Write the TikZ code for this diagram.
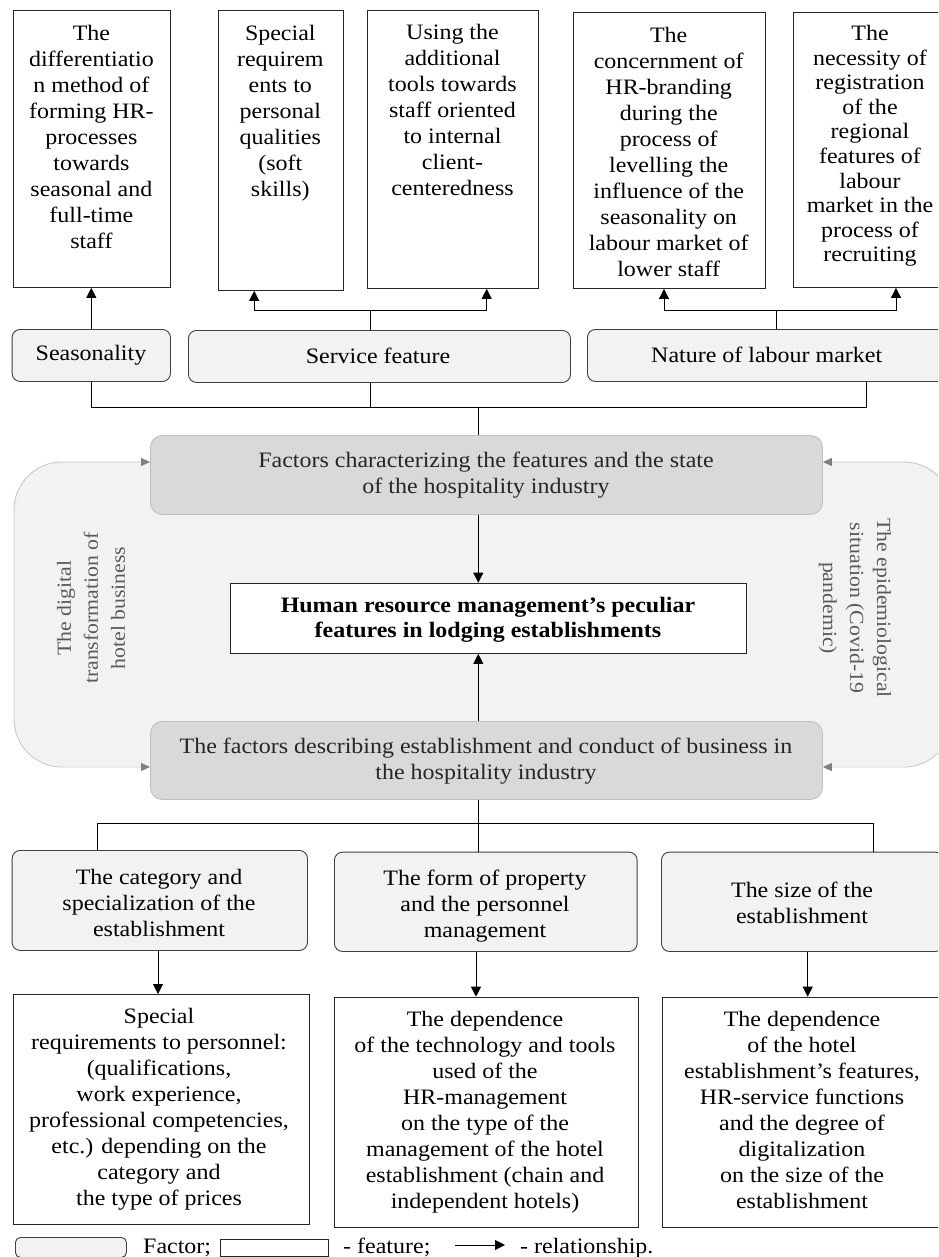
\documentclass[tikz,border=0pt]{standalone}
\usepackage{fontspec}
\setmainfont{Liberation Serif}[FakeStretch=1.09]
\usetikzlibrary{arrows.meta,calc}
\definecolor{factfill}{HTML}{F2F2F2}
\definecolor{bigfill}{HTML}{D9D9D9}
\definecolor{bigline}{HTML}{BFBFBF}
\definecolor{bgline}{HTML}{C8C8C8}
\definecolor{bgtip}{HTML}{808080}
\definecolor{sidetext}{HTML}{595959}
\begin{document}
\begin{tikzpicture}[x=1pt,y=-1pt,
 featbox/.style={draw=black!85,line width=0.9pt,fill=white,inner sep=0pt,anchor=north west},
 factbox/.style={draw=black!75,line width=0.9pt,fill=factfill,rounded corners=8pt,inner sep=0pt,anchor=north west},
 bigbox/.style={draw=bigline,line width=0.9pt,fill=bigfill,rounded corners=12pt,inner sep=0pt,anchor=north west},
 txt/.style={font=\fontsize{22}{26}\selectfont,align=center,inner sep=0pt,text=black},
 arr/.style={line width=0.9pt,-{Triangle[length=10pt,width=10pt]}},
 conn/.style={line width=0.9pt},
 sidelabel/.style={font=\fontsize{20}{27}\selectfont,align=center,inner sep=0pt,text=sidetext},
 bgarrow/.style={draw=bgline,line width=0.9pt,rounded corners=48pt,
   arrows={Triangle[length=9pt,width=8pt,fill=bgtip,color=bgtip]-Triangle[length=9pt,width=8pt,fill=bgtip,color=bgtip]}}]
\useasboundingbox (0,0) rectangle (938,1257);
\clip (0,0) rectangle (938,1257);
\fill[white] (0,0) rectangle (938,1257);

% ---------- top feature boxes ----------
\node[featbox,minimum width=157.3,minimum height=276.7] (t1) at (12.7,10.3) {};
\node[featbox,minimum width=125.3,minimum height=279.7] (t2) at (217.7,10.3) {};
\node[featbox,minimum width=171,minimum height=277.7] (t3) at (367,10.3) {};
\node[featbox,minimum width=192,minimum height=276.3] (t4) at (572.7,11.7) {};
\node[featbox,minimum width=152,minimum height=275.3] (t5) at (792.7,11.7) {};

\node[txt,anchor=north] (t1t) at (91.4,25) {The\\differentiatio\\n method of\\forming HR-\\processes\\towards\\seasonal and\\full-time\\staff};
\node[txt,anchor=north] (t2t) at (280.3,25) {Special\\requirem\\ents to\\personal\\qualities\\(soft\\skills)};
\node[txt,anchor=north] (t3t) at (452.5,24.3) {Using the\\additional\\tools towards\\staff oriented\\to internal\\client-\\centeredness};
\node[txt,anchor=north] (t4t) at (668.7,26.7) {The\\concernment of\\HR-branding\\during the\\process of\\levelling the\\influence of the\\seasonality on\\labour market of\\lower staff};
\node[txt,anchor=north,font=\fontsize{22}{24.6}\selectfont] (t5t) at (870,25) {The\\necessity of\\registration\\of the\\regional\\features of\\labour\\market in the\\process of\\recruiting};

% ---------- upper factor boxes ----------
\node[factbox,minimum width=158.3,minimum height=52] (seas) at (11.7,329) {};
\node[factbox,minimum width=382,minimum height=52] (serv) at (188,330) {};
\node[factbox,minimum width=359,minimum height=52] (nat) at (587,329) {};
\node[txt,anchor=base] (seast) at (91,360.7) {Seasonality};
\node[txt,anchor=base] (servt) at (378,363.3) {Service feature};
\node[txt,anchor=base] (natt) at (766.7,362) {Nature of labour market};

% connectors top
\draw[arr] (seas.north) -- (seas.north |- t1.south);
\coordinate (sv) at (370,310);
\draw[conn] (serv.north -| sv) -- (sv);
\draw[arr] (sv) -| ($(t2.south west)+(36.5,0)$);
\draw[arr] (sv) -| ($(t3.south west)+(119.7,0)$);
\coordinate (nv) at (776.7,310);
\draw[conn] (nat.north -| nv) -- (nv);
\draw[arr] (nv) -| ($(t4.south west)+(91.3,0)$);
\draw[arr] (nv) -| ($(t5.south west)+(103.3,0)$);

% bus
\coordinate (busR) at (866.7,407.7);
\coordinate (bus) at (478.3,407.7);
\draw[conn] (seas.south) |- (busR) -- (busR |- nat.south);
\draw[conn] (serv.south -| sv) -- (sv |- busR);

% ---------- middle region ----------
\fill[factfill] (14,462) [rounded corners=48pt] rectangle (952,766);
\node[bigbox,minimum width=672,minimum height=79] (f1) at (150,435) {};
\node[bigbox,minimum width=672,minimum height=78] (f2) at (150,721) {};
\draw[bgarrow] ($(f1.north west)+(0,27)$) -- (14,462) -- (14,767) -- ($(f2.north west)+(0,46)$);
\draw[bgarrow] ($(f1.north east)+(0,27)$) -- (952,462) -- (952,767) -- ($(f2.north east)+(0,46)$);
\node[txt,anchor=north,text=black!85] (f1t) at (486,451.7) {Factors characterizing the features and the state\\of the hospitality industry};
\node[txt,anchor=north,text=black!85] (f2t) at (486,738.3) {The factors describing establishment and conduct of business in\\the hospitality industry};

\node[featbox,minimum width=516,minimum height=70.3] (hr) at (230,582.7) {};
\node[txt,anchor=north,font=\fontsize{22}{25}\selectfont\bfseries] (hrt) at (488,597.3) {Human resource management’s peculiar\\features in lodging establishments};

\node[sidelabel,rotate=90] (dig) at (91,608) {The digital\\transformation of\\hotel business};
\node[sidelabel,rotate=-90] (epi) at (855,608) {The epidemiological\\situation (Covid-19\\pandemic)};

\draw[conn] (bus) -- (bus |- f1.north);
\draw[arr] (f1.south -| bus) -- (hr.north -| bus);
\draw[arr] (f2.north -| bus) -- (hr.south -| bus);

% ---------- lower factor boxes ----------
\node[factbox,minimum width=295.3,minimum height=100] (b1) at (11.7,850) {};
\node[factbox,minimum width=302.7,minimum height=99.3] (b2) at (334,851.7) {};
\node[factbox,minimum width=282,minimum height=99.3] (b3) at (661,851.7) {};
\node[txt,anchor=north] (b1t) at (159,869) {The category and\\specialization of the\\establishment};
\node[txt,anchor=north] (b2t) at (485,870) {The form of property\\and the personnel\\management};
\node[txt,anchor=north] (b3t) at (802,881.7) {The size of the\\establishment};

\coordinate (bl) at (97,823);
\coordinate (br) at (873,823);
\draw[conn] (bl |- b1.north) -- (bl) -- (br) -- (br |- b3.north);
\draw[conn] (f2.south -| bus) -- (bus |- b2.north);

% ---------- lower feature boxes ----------
\node[featbox,minimum width=296.3,minimum height=230] (d1) at (12.7,994) {};
\node[featbox,minimum width=304,minimum height=230] (d2) at (334,996.7) {};
\node[featbox,minimum width=282,minimum height=230] (d3) at (662,996.7) {};
\node[txt,anchor=north] (d1t) at (159,1007.7) {Special\\requirements to personnel:\\(qualifications,\\work experience,\\professional competencies,\\etc.) depending on the\\category and\\the type of prices};
\node[txt,anchor=north] (d2t) at (485,1010.7) {The dependence\\of the technology and tools\\used of the\\HR-management\\on the type of the\\management of the hotel\\establishment (chain and\\independent hotels)};
\node[txt,anchor=north] (d3t) at (802,1010.7) {The dependence\\of the hotel\\establishment’s features,\\HR-service functions\\and the degree of\\digitalization\\on the size of the\\establishment};

\coordinate (a1) at (158,0);
\coordinate (a2) at (476,0);
\coordinate (a3) at (807.7,0);
\draw[arr] (b1.south -| a1) -- (d1.north -| a1);
\draw[arr] (b2.south -| a2) -- (d2.north -| a2);
\draw[arr] (b3.south -| a3) -- (d3.north -| a3);

% ---------- legend ----------
\node[factbox,minimum width=111,minimum height=20,rounded corners=5pt] (lf) at (15,1237) {};
\node[txt,anchor=base west] (lft) at (143,1253) {Factor;};
\node[featbox,minimum width=108,minimum height=17] (lb) at (220,1239) {};
\node[txt,anchor=base west] (lbt) at (343,1253) {- feature;};
\coordinate (la1) at (455,1245);
\coordinate (la2) at (505,1245);
\draw[arr] (la1) -- (la2);
\node[txt,anchor=base west] (lrt) at (520,1253) {- relationship.};
\end{tikzpicture}
\end{document}
